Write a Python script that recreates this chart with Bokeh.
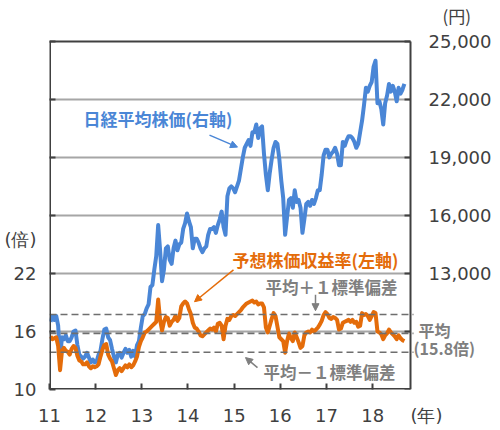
from bokeh.plotting import figure
from bokeh.models import (Range1d, LinearAxis, FixedTicker, Label, Arrow, NormalHead)
from bokeh.core.properties import value
from bokeh.embed import file_html
from bokeh.resources import INLINE

# ---------------- data ----------------
start_year = 2011
years = [2011, 2012, 2013, 2014, 2015, 2016, 2017, 2018]
year_labels = ["11", "12", "13", "14", "15", "16", "17", "18"]

# Nikkei 225 (yen), two readings per month, Jan 2011 - Sep 2018
nikkei = [
    # 2011
    10500, 10800, 10600, 10800, 10300, 8700, 9700, 9600, 9800, 9500, 9500, 9700,
    10000, 10050, 9300, 8800, 8700, 8600, 8700, 8900, 8650, 8400, 8550, 8400,
    # 2012
    8450, 8800, 9000, 9600, 10100, 10150, 9700, 9550, 9100, 8700, 8400, 8800,
    8900, 8650, 8900, 9100, 8900, 9050, 8700, 9000, 8700, 9300, 9500, 10200,
    # 2013
    10800, 10900, 11200, 11400, 12300, 12400, 13200, 13900, 15500, 14200, 12600, 13200,
    14300, 14400, 13700, 13500, 14300, 14700, 14200, 14500, 14600, 15300, 15600, 16100,
    # 2014
    15700, 15400, 14300, 14800, 14800, 14600, 14300, 14100, 14300, 14400, 15000, 15300,
    15300, 15400, 15100, 15500, 15800, 16200, 15400, 15000, 17000, 17400, 17500, 17400,
    # 2015
    17200, 17500, 17800, 18400, 19000, 19500, 19700, 19900, 19600, 20300, 20300, 20700,
    20000, 20500, 20600, 19200, 18100, 17300, 18200, 18900, 19500, 19800, 19700, 18900,
    # 2016
    17800, 16900, 15000, 15900, 16800, 16900, 16400, 17300, 16700, 16800, 16400, 15100,
    15800, 16600, 16700, 16500, 16800, 16600, 16900, 17300, 17300, 18100, 19100, 19400,
    # 2017
    19400, 19000, 19200, 19300, 19500, 19200, 18600, 18600, 19800, 19600, 19900, 20100,
    20100, 20000, 19800, 19500, 19700, 20300, 20900, 21700, 22600, 22400, 22700, 22900,
    # 2018
    23700, 24000, 21800, 21900, 21500, 20700, 21800, 22200, 22800, 22400, 22700, 22400,
    21900, 22600, 22300, 22500, 22800,
]

# Forward P/E (times), same dates
per = [
    # 2011
    15.5, 15.2, 15.3, 15.4, 14.5, 12.0, 14.0, 14.3, 14.0, 13.9, 13.6, 14.2,
    14.5, 14.3, 13.5, 13.0, 12.9, 12.6, 12.6, 12.8, 12.4, 12.2, 12.4, 12.3,
    # 2012
    12.4, 12.6, 13.4, 14.1, 14.6, 14.7, 13.6, 13.2, 12.9, 12.2, 11.5, 12.0,
    12.2, 11.9, 12.2, 12.5, 12.3, 12.6, 12.3, 12.5, 12.9, 13.4, 14.4, 15.0,
    # 2013
    15.4, 15.9, 16.0, 16.2, 16.4, 16.6, 16.8, 17.0, 19.3, 17.2, 16.1, 17.0,
    17.5, 17.4, 16.6, 17.0, 17.2, 17.6, 17.1, 17.4, 18.6, 18.9, 19.1, 18.9,
    # 2014
    18.3, 17.8, 16.9, 16.4, 16.3, 16.0, 15.6, 15.5, 15.7, 15.9, 16.1, 16.3,
    16.2, 16.4, 16.0, 16.8, 16.9, 16.6, 15.2, 16.6, 17.3, 17.2, 17.6, 17.7,
    # 2015
    17.6, 17.8, 18.0, 18.2, 18.5, 18.7, 18.9, 19.0, 19.1, 19.2, 19.0, 19.1,
    18.8, 18.9, 18.9, 18.5, 16.4, 15.9, 16.6, 17.3, 17.9, 17.6, 16.5, 15.4,
    # 2016
    15.2, 15.0, 13.8, 15.0, 15.8, 15.3, 15.0, 15.9, 15.4, 14.9, 14.3, 14.5,
    15.6, 15.9, 16.0, 15.9, 16.2, 16.0, 16.2, 16.4, 16.7, 17.1, 17.7, 18.0,
    # 2017
    17.8, 17.4, 17.3, 17.5, 17.4, 17.2, 16.2, 16.3, 16.9, 17.0, 17.1, 17.2,
    17.0, 17.2, 16.9, 17.0, 16.5, 16.6, 17.9, 17.7, 17.8, 17.6, 17.2, 17.6,
    # 2018
    18.0, 17.9, 16.0, 15.9, 15.7, 15.2, 15.6, 15.8, 16.2, 15.9, 15.7, 15.5,
    15.2, 15.6, 15.3, 15.1, 15.0,
]

per_mean = 15.8
per_std = 1.95

left_ticks = [10, 16, 22, 28, 34, 40, 46]
left_labels = ["10", "16", "22"]
right_ticks = [7000, 10000, 13000, 16000, 19000, 22000, 25000]
right_label_vals = [13000, 16000, 19000, 22000, 25000]
right_labels = ["13,000", "16,000", "19,000", "22,000", "25,000"]

# dates: two readings per month
t = [start_year + (i + 0.5) / 24 for i in range(len(nikkei))]

# ---------------- geometry ----------------
W, H = 498, 428
BOX_L, BOX_T, BOX_R, BOX_B = 49, 41, 410, 390      # chart box in canvas pixels
X0, X1 = 2011.0, 2018.82                            # box x extent (years)
Y0, Y1 = 10.0, 46.0                                 # left axis (times)
N0, N1 = 7000.0, 25000.0                            # right axis (yen)

ppx = (BOX_R - BOX_L) / (X1 - X0)                   # pixels per year
ppy = (BOX_B - BOX_T) / (Y1 - Y0)                   # pixels per P/E unit
ppn = (BOX_B - BOX_T) / (N1 - N0)                   # pixels per yen

def xd(px):   # canvas px -> x data
    return X0 + (px - BOX_L) / ppx

def yd(py):   # canvas py -> left-axis data
    return Y0 + (BOX_B - py) / ppy

# frame spans the box plus the area above and to the right of it
x_range = Range1d(X0, xd(W))
y_range = Range1d(Y0, yd(0))
nk_range = Range1d(N0, N0 + BOX_B / ppn)

DARK = "#404040"
GRAY = "#7f7f7f"
GRID = "#a6a6a6"
BLUE = "#4a86d6"
ORANGE = "#e46c0a"
JP = "Noto Sans CJK JP"
NUM = "DejaVu Sans"

p = figure(width=W, height=H, output_backend="svg", toolbar_location=None,
           x_range=x_range, y_range=y_range,
           min_border_left=BOX_L, min_border_top=0,
           min_border_right=0, min_border_bottom=H - BOX_B,
           background_fill_color="white", border_fill_color="white")
p.outline_line_color = None
p.extra_y_ranges = {"nk": nk_range}
p.xgrid.visible = False
p.ygrid.visible = False

def style_ticks_only(ax, ticks):
    ax.ticker = FixedTicker(ticks=ticks)
    ax.axis_line_color = None
    ax.major_tick_in = 6
    ax.major_tick_out = 0
    ax.major_tick_line_width = 2
    ax.major_tick_line_color = DARK
    ax.minor_tick_line_color = None
    ax.major_label_standoff = 0
    ax.major_label_text_font_size = "0px"
    ax.major_label_overrides = {k: "" for k in ticks}

def style_labels_only(ax, ticks, labels, standoff):
    ax.ticker = FixedTicker(ticks=ticks)
    ax.major_label_overrides = {k: l for k, l in zip(ticks, labels)}
    ax.axis_line_color = None
    ax.major_tick_line_color = None
    ax.minor_tick_line_color = None
    ax.major_tick_in = 0
    ax.major_tick_out = 0
    ax.major_label_standoff = standoff
    ax.major_label_text_font = NUM
    ax.major_label_text_font_size = "18px"
    ax.major_label_text_color = DARK

# left: inner tick marks, outer labels (incl. unit)
style_ticks_only(p.yaxis[0], left_ticks)
la = LinearAxis()
style_labels_only(la, [10, 16, 22, yd(240)], left_labels + ["(倍)"], 13)
p.add_layout(la, "left")

# bottom: inner tick marks, outer labels (incl. unit)
style_ticks_only(p.xaxis[0], years)
ba = LinearAxis()
style_labels_only(ba, years + [xd(426)], year_labels + ["(年)"], 15)
p.add_layout(ba, "below")

# grid lines inside the box
grid_vals = left_ticks[1:-1]
p.segment(x0=X0, x1=X1, y0=grid_vals, y1=grid_vals, line_color=GRID, line_width=2)

# series
p.line(t, nikkei, y_range_name="nk", line_color=BLUE, line_width=4, line_join="round")
p.line(t, per, line_color=ORANGE, line_width=4, line_join="round")

# mean and +/- 1 sd
sd_lines = [per_mean + per_std, per_mean, per_mean - per_std]
p.segment(x0=X0, x1=xd(413), y0=sd_lines, y1=sd_lines,
          line_color="#6e6e6e", line_width=1.6, line_dash="7 4")

# chart box
p.segment(x0=[X0, X0], x1=[X1, X1], y0=[Y1, Y0], y1=[Y1, Y0],
          line_color=DARK, line_width=[2, 3])
p.segment(x0=[X0, X1], x1=[X0, X1], y0=[Y0, Y0], y1=[Y1, Y1],
          line_color=DARK, line_width=[3, 2])

# right axis: inward ticks and labels on the Nikkei scale
p.segment(x0=X1 - 6 / ppx, x1=X1, y0=right_ticks, y1=right_ticks,
          y_range_name="nk", line_color=DARK, line_width=2)
p.text(x=xd(428), y=right_label_vals, text=right_labels, y_range_name="nk",
       text_font=value(NUM), text_font_size="18px", text_color=DARK,
       text_baseline="middle", text_align="left")

# annotations
def lab(px, py, text, color, size="17px", style="bold", font=JP):
    p.add_layout(Label(x=xd(px), y=yd(py), text=text, text_color=color, text_font=font,
                       text_font_size=size, text_font_style=style,
                       text_baseline="middle", text_align="left"))

lab(83, 118, "日経平均株価(右軸)", BLUE)
lab(232, 260, "予想株価収益率(左軸)", ORANGE)
lab(265, 287, "平均＋１標準偏差", GRAY, size="16.5px")
lab(263, 372, "平均－１標準偏差", GRAY, size="16.5px")
lab(418, 330, "平均", GRAY, size="16px")
lab(413, 348, "(15.8倍)", GRAY, size="16px")
lab(442, 15, "(円)", DARK, size="17px", style="normal")

def arrow(pxa, pya, pxb, pyb, color):
    p.add_layout(Arrow(x_start=xd(pxa), y_start=yd(pya), x_end=xd(pxb), y_end=yd(pyb),
                       line_color=color, line_width=1.5,
                       end=NormalHead(size=7, fill_color=color, line_color=color)))

arrow(209, 135, 237, 147, BLUE)
arrow(233, 270, 194, 302, ORANGE)
arrow(315, 295, 315, 311, GRAY)
arrow(257, 368, 245, 358, GRAY)

open("out.html", "w").write(file_html(p, INLINE))
